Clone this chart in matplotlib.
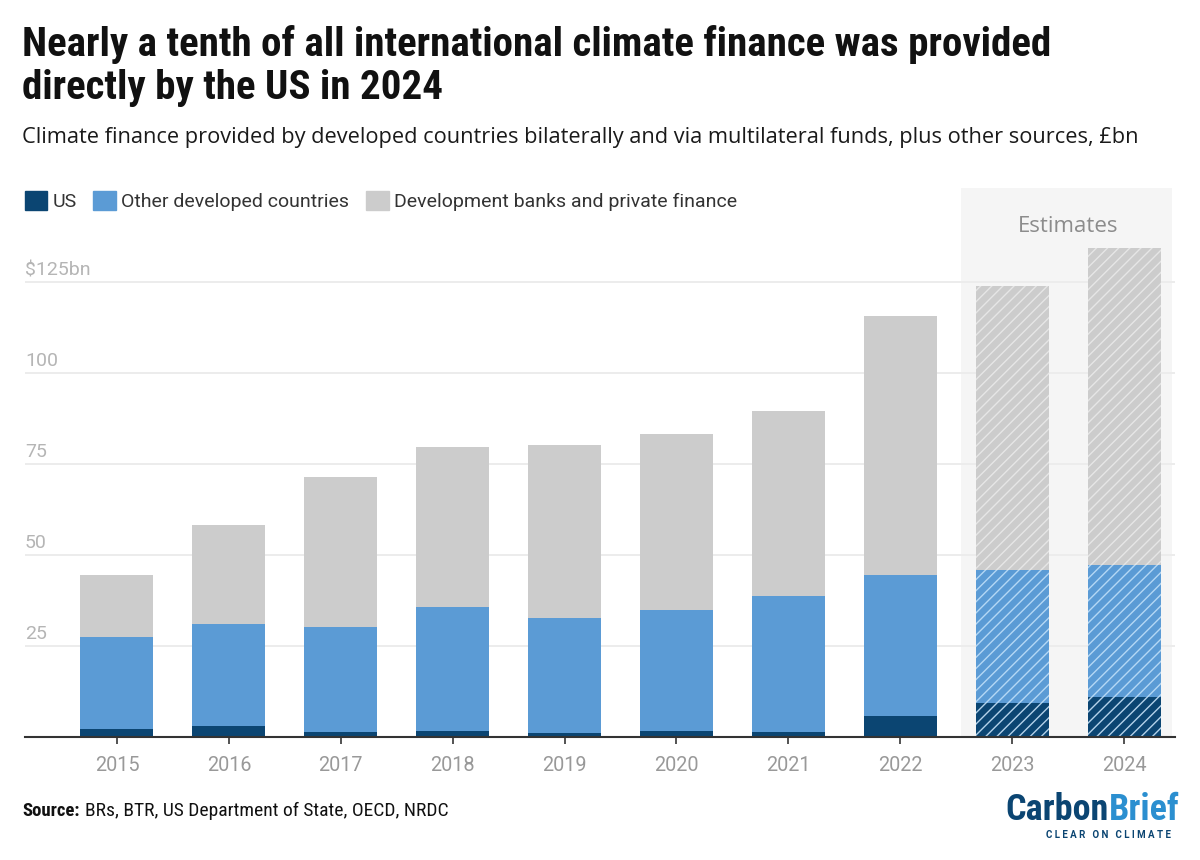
import matplotlib
matplotlib.use("Agg")
import matplotlib.pyplot as plt
from matplotlib.patches import Patch

years = [2015, 2016, 2017, 2018, 2019, 2020, 2021, 2022, 2023, 2024]
us = [2.2, 3.0, 1.4, 1.6, 1.1, 1.6, 1.4, 5.8, 9.3, 11.0]
other_top = [27.5, 31.0, 30.2, 35.7, 32.7, 34.9, 38.7, 44.5, 45.9, 47.2]
total = [44.5, 58.2, 71.4, 79.7, 80.2, 83.2, 89.6, 115.7, 123.9, 134.3]
estimate_years = [2023, 2024]
y_ticks = [25, 50, 75, 100, 125]
y_labels = ["25", "50", "75", "100", "$125bn"]

other = [t - u for t, u in zip(other_top, us)]
banks = [t - o for t, o in zip(total, other_top)]

NAVY = "#0b4572"
BLUE = "#5b9bd5"
GREY = "#cccccc"
TICK_GREY = "#999999"
BODY = "Roboto"
NARROW = ["Liberation Sans Narrow", "Roboto Condensed", "DejaVu Sans"]
W, H = 1200, 860

plt.rcParams["hatch.linewidth"] = 1.0


def fx(px):
    return px / W


def fy(px):
    return 1 - px / H


fig = plt.figure(figsize=(W / 100, H / 100), dpi=100, facecolor="white")
ax = fig.add_axes([fx(25), fy(737), fx(1150), (737 - 188) / H])
ax.set_facecolor("none")

# 3.64 px per unit, step 111.9 px
ax.set_ylim(0, 549 / 3.64)
ax.set_xlim(2015 - 92 / 111.9, 2024 + 51 / 111.9)

for v in y_ticks:
    ax.axhline(v, color="#ececec", lw=1.4, zorder=1)
    ax.text(0, v + 0.8, y_labels[y_ticks.index(v)], transform=ax.get_yaxis_transform(),
            ha="left", va="bottom", fontsize=14, color="#b5b5b5", family=BODY)

# shaded band behind the estimates
ax.axvspan(2023 - 0.46, 2024 + 0.433, color="#f5f5f5", lw=0, zorder=0)
ax.text(2023.5, 140.3, "Estimates", ha="center", va="center", fontsize=16,
        color="#8c8c8c", family="Open Sans")

bar_w = 73 / 111.9
layers = [
    (us, [0] * len(us), NAVY, "#b4d2ea"),
    (other, us, BLUE, "#b5d8f5"),
    (banks, other_top, GREY, "#e6e6e6"),
]
for values, bottoms, colour, hatch_colour in layers:
    bars = ax.bar(years, values, bottom=bottoms, width=bar_w, color=colour, lw=0, zorder=2)
    for yr, b in zip(years, bars):
        if yr in estimate_years:
            b.set_hatch("///")
            b.set_edgecolor(hatch_colour)
            b.set_linewidth(0)

for side in ["top", "right", "left"]:
    ax.spines[side].set_visible(False)
ax.spines["bottom"].set_color("#333333")
ax.spines["bottom"].set_linewidth(1.5)
ax.spines["bottom"].set_zorder(5)
ax.set_yticks([])
ax.set_xticks(years)
ax.set_xticklabels([str(y) for y in years], fontsize=14.3, color=TICK_GREY, family=BODY)
ax.tick_params(axis="x", length=5, width=1.3, color="#444444", pad=9)

# Title and subtitle
fig.text(fx(22), fy(45), "Nearly a tenth of all international climate finance was provided",
         fontsize=29.5, fontweight="bold", family=NARROW, color="#111111", va="center")
fig.text(fx(22), fy(88), "directly by the US in 2024",
         fontsize=29.5, fontweight="bold", family=NARROW, color="#111111", va="center")
fig.text(fx(22), fy(138),
         "Climate finance provided by developed countries bilaterally and via multilateral funds, plus other sources, £bn",
         fontsize=15.7, family="Open Sans", color="#1a1a1a", va="center")

# Legend
handles = [Patch(color=NAVY), Patch(color=BLUE), Patch(color=GREY)]
labels = ["US", "Other developed countries", "Development banks and private finance"]
fig.legend(handles, labels, ncol=3, frameon=False, loc="center left",
           bbox_to_anchor=(fx(7), fy(201)), prop={"family": BODY, "size": 14},
           labelcolor="#333333", handlelength=1.18, handleheight=1.18,
           handletextpad=0.26, columnspacing=0.85)

# Source
fig.text(fx(22), fy(811), "Source:", fontsize=13.5, fontweight="bold", family=NARROW,
         color="#111111", va="center")
fig.text(fx(85), fy(811), "BRs, BTR, US Department of State, OECD, NRDC", fontsize=14,
         family=NARROW, color="#111111", va="center")

# Logo
fig.text(fx(1109), fy(810), "Carbon", fontsize=26, fontweight="bold", family=NARROW,
         color=NAVY, va="center", ha="right")
fig.text(fx(1109), fy(810), "Brief", fontsize=26, fontweight="bold", family=NARROW,
         color="#2b8fd0", va="center", ha="left")
fig.text(fx(1108), fy(835), "C L E A R   O N   C L I M A T E", fontsize=7, fontweight="bold",
         family=BODY, color=NAVY, va="center", ha="center")

fig.savefig("out.png", dpi=100)
